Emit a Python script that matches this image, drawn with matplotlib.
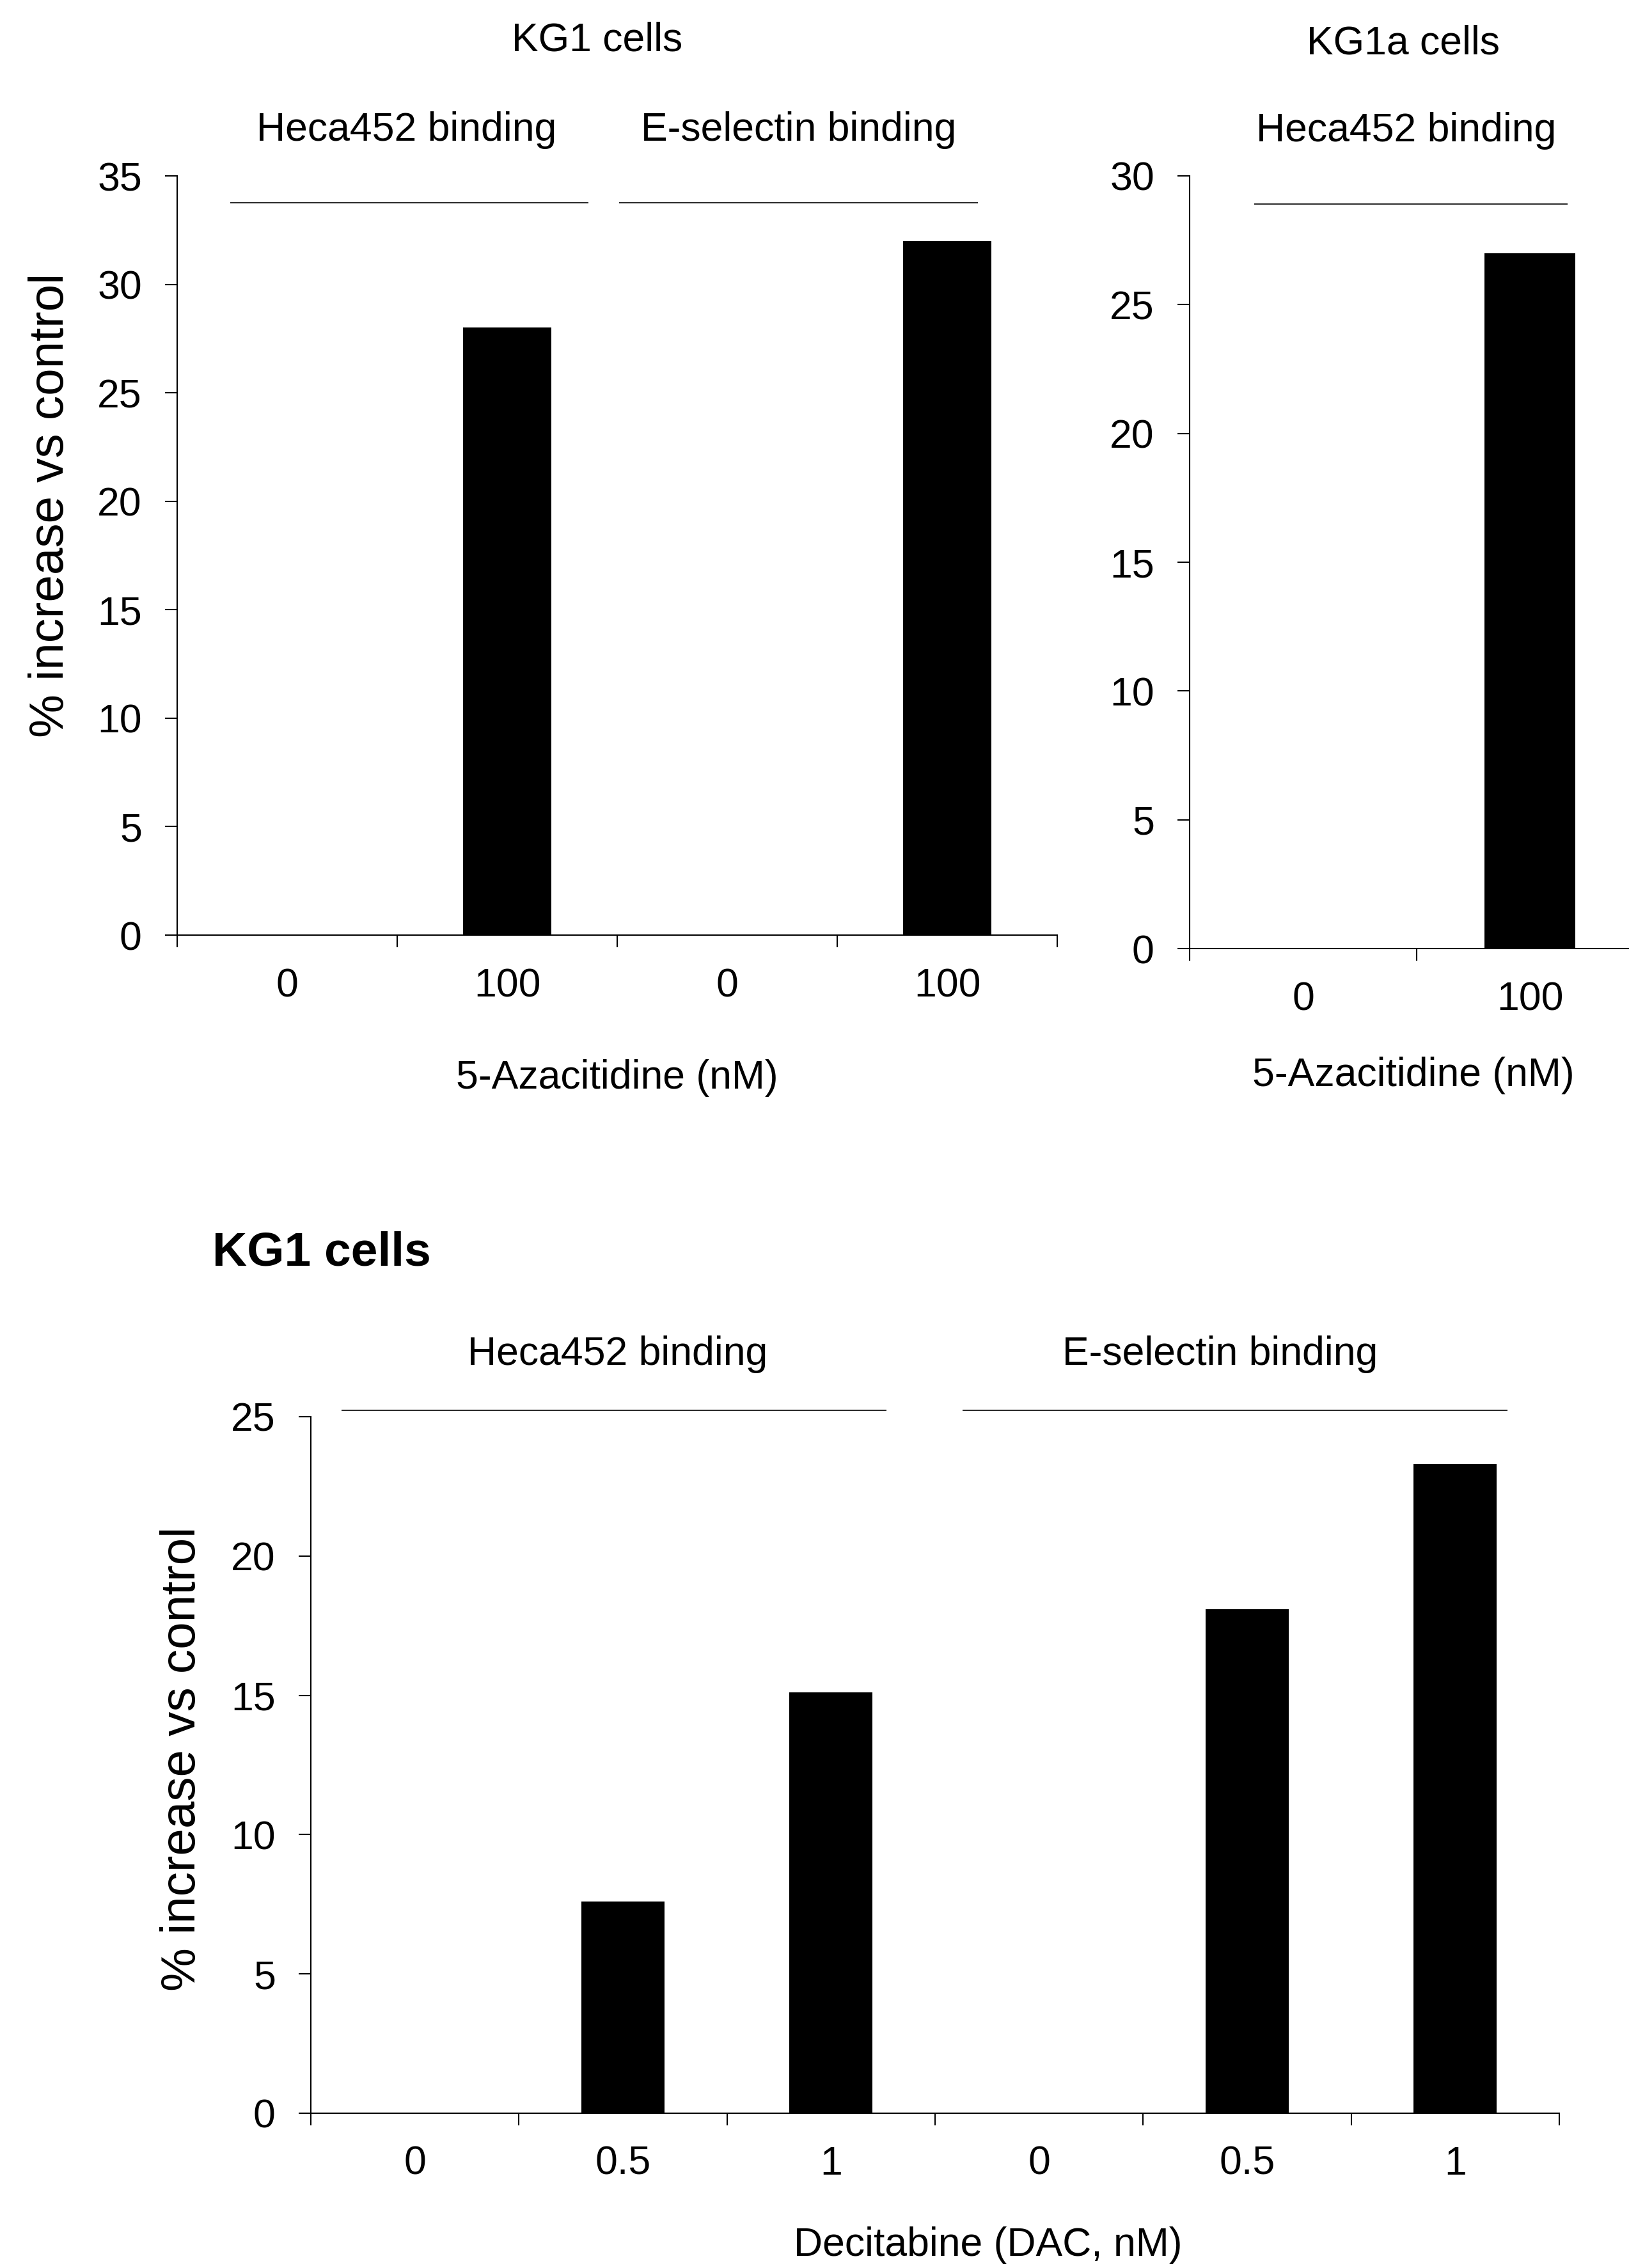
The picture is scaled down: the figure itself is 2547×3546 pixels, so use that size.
"""KG1 / KG1a binding increase after hypomethylating agents - three bar panels."""
import numpy as np
import matplotlib
matplotlib.use("Agg")
import matplotlib.pyplot as plt

plt.rcParams["font.family"] = ["Liberation Sans", "DejaVu Sans"]

W_PX, H_PX, DPI = 2547, 3546, 100

# ── data ──
aza_kg1_labels = ["0", "100", "0", "100"]
aza_kg1_values = [0.0, 28.0, 0.0, 32.0]

aza_kg1a_labels = ["0", "100"]
aza_kg1a_values = [0.0, 27.0]

dac_labels = ["0", "0.5", "1", "0", "0.5", "1"]
dac_values = [0.0, 7.6, 15.1, 0.0, 18.1, 23.3]

YLABEL = "% increase vs control"
FS = 45          # ticks / annotations
FS_YLAB = 55
TICK_LEN = 13.7  # pt (~19 px)
BAR_W = 0.4


def px2fig(x, y):
    return x / W_PX, 1 - y / H_PX


def style_axes(ax, labels, values, ymax, ystep):
    n = len(labels)
    x = np.arange(n)
    ax.bar(x, values, width=BAR_W, color="black")
    ax.set_xlim(-0.5, n - 0.5)
    ax.set_ylim(0, ymax)
    ax.set_yticks(np.arange(0, ymax + 0.1, ystep))
    ax.set_xticks(np.arange(-0.5, n, 1.0))
    ax.set_xticklabels([])
    ax.set_xticks(x, minor=True)
    ax.set_xticklabels(labels, minor=True)
    ax.tick_params(axis="x", which="major", direction="out", length=TICK_LEN,
                   width=1.5)
    ax.tick_params(axis="x", which="minor", length=0, pad=36, labelsize=FS)
    ax.tick_params(axis="y", direction="out", length=TICK_LEN, width=1.5,
                   pad=26, labelsize=FS)
    for s in ("top", "right"):
        ax.spines[s].set_visible(False)
    for s in ("left", "bottom"):
        ax.spines[s].set_linewidth(1.5)


def group_line(ax, x0, x1, y):
    ax.plot([x0, x1], [y, y], color="black", lw=1.2, clip_on=False,
            solid_capstyle="butt")


def main():
    fig = plt.figure(figsize=(W_PX / DPI, H_PX / DPI), dpi=DPI)

    # ── KG1, 5-Azacitidine ──
    ax1 = fig.add_axes([0.10876, 0.58770, 0.54025, 0.33474])
    style_axes(ax1, aza_kg1_labels, aza_kg1_values, 35, 5)
    ax1.text(1.41, 41.25, "KG1 cells", ha="center", va="center", fontsize=FS)
    ax1.text(0.544, 37.1, "Heca452 binding", ha="center", va="center",
             fontsize=FS)
    ax1.text(2.325, 37.1, "E-selectin binding", ha="center", va="center",
             fontsize=FS)
    group_line(ax1, -0.26, 1.37, 33.75)
    group_line(ax1, 1.51, 3.14, 33.75)
    ax1.text(1.5, -6.58, "5-Azacitidine (nM)", ha="center", va="center",
             fontsize=FS)
    fx, fy = px2fig(80, 790)
    fig.text(fx, fy, YLABEL, rotation=90, ha="center", va="center",
             fontsize=FS_YLAB)

    # ── KG1a, 5-Azacitidine ──
    ax2 = fig.add_axes([0.73027, 0.58178, 0.27876, 0.34067])
    style_axes(ax2, aza_kg1a_labels, aza_kg1a_values, 30, 5)
    ax2.text(0.441, 35.14, "KG1a cells", ha="center", va="center",
             fontsize=FS)
    ax2.text(0.455, 31.76, "Heca452 binding", ha="center", va="center",
             fontsize=FS)
    group_line(ax2, -0.215, 1.165, 28.9)
    ax2.text(0.486, -4.92, "5-Azacitidine (nM)", ha="center", va="center",
             fontsize=FS)

    # ── KG1, Decitabine ──
    ax3 = fig.add_axes([0.19081, 0.06825, 0.76639, 0.30711])
    style_axes(ax3, dac_labels, dac_values, 25, 5)
    ax3.text(-0.973, 30.42, "KG1 cells", ha="left", va="baseline",
             fontsize=54, fontweight="bold")
    ax3.text(0.976, 27.23, "Heca452 binding", ha="center", va="center",
             fontsize=FS)
    ax3.text(3.87, 27.23, "E-selectin binding", ha="center", va="center",
             fontsize=FS)
    group_line(ax3, -0.352, 2.265, 25.22)
    group_line(ax3, 2.632, 5.252, 25.22)
    ax3.text(2.755, -4.75, "Decitabine (DAC, nM)", ha="center", va="center",
             fontsize=FS)
    fx, fy = px2fig(285, 2750)
    fig.text(fx, fy, YLABEL, rotation=90, ha="center", va="center",
             fontsize=FS_YLAB)

    fig.savefig("out.png", dpi=DPI)


if __name__ == "__main__":
    main()
